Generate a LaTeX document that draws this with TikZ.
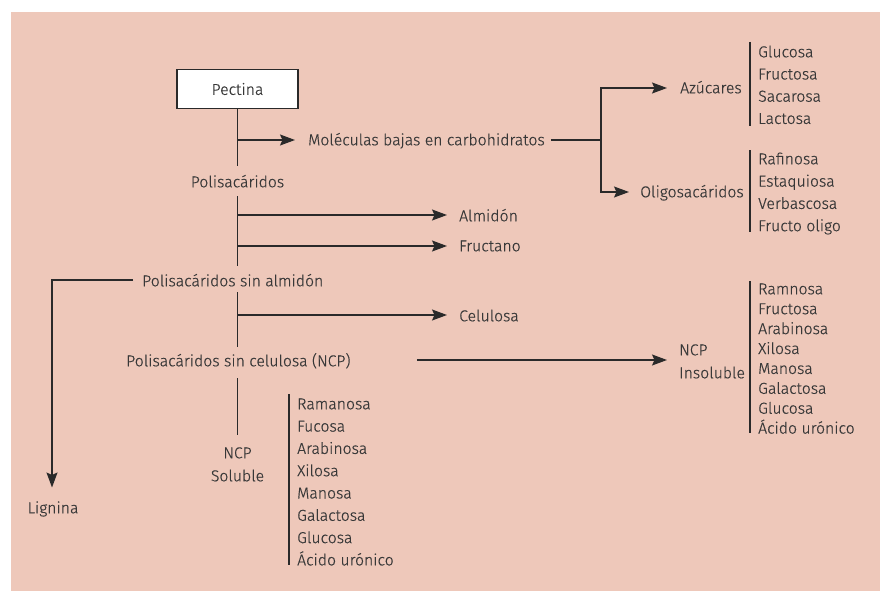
\documentclass[tikz,border=0pt]{standalone}
\usepackage{fontspec}
\setmainfont{Fira Sans Light}[FakeBold=0.5]
\usetikzlibrary{arrows.meta,calc}
\definecolor{bg}{HTML}{EEC8BA}
\definecolor{ink}{HTML}{383838}
\definecolor{line}{HTML}{2A2A2A}
\newcommand\diagfont{\fontsize{15.8}{18}\selectfont}
\begin{document}
\begin{tikzpicture}[x=1pt,y=-1pt,
  lbl/.style={text=ink, inner sep=0pt, text height=10.6pt, text depth=0pt, font=\diagfont},
  item/.style={lbl, anchor=west},
  ln/.style={draw=line, line width=1.3pt},
  arr/.style={ln, -{Stealth[length=15pt,width=11pt,inset=2.5pt]}}]
% background panel
\fill[bg] (11,12) rectangle (880,591);
\useasboundingbox (0,0) rectangle (880,591);

% main column
\node[draw=line, line width=1.1pt, fill=white, minimum width=121pt, minimum height=39pt,
      inner sep=0pt, text=ink, font=\diagfont] (pec) at (237.5,89) {Pectina};
\node[lbl] (pol) at (237.5,182) {Polisacáridos};
\node[item] (psa) at (142,281) {Polisacáridos sin almidón};
\node[item] (psc) at (126,361) {Polisacáridos sin celulosa (NCP)};
\node[lbl] (ncps1) at (237.5,453) {NCP};
\node[lbl] (ncps2) at (237.5,476) {Soluble};
\node[lbl] (lig) at (53,508) {Lignina};

% branches
\node[item] (mol) at (308,140) {Moléculas bajas en carbohidratos};
\node[item] (azu) at (680,88) {Azúcares};
\node[item] (oli) at (640,192) {Oligosacáridos};
\node[item] (alm) at (459,216) {Almidón};
\node[item] (fru) at (459,246) {Fructano};
\node[item] (cel) at (459,316) {Celulosa};
\node[item] (ncpi1) at (679,350) {NCP};
\node[item] (ncpi2) at (679,373) {Insoluble};

% component lists
\foreach \t [count=\i] in {Glucosa,Fructosa,Sacarosa,Lactosa}
  \node[item] (az\i) at (758,{52+22.2*(\i-1)}) {\t};
\foreach \t [count=\i] in {Rafinosa,Estaquiosa,Verbascosa,Fructo oligo}
  \node[item] (ol\i) at (758,{159+22.3*(\i-1)}) {\t};
\foreach \t [count=\i] in {Ramnosa,Fructosa,Arabinosa,Xilosa,Manosa,Galactosa,Glucosa,Ácido urónico}
  \node[item] (in\i) at (758,{289+19.9*(\i-1)}) {\t};
\foreach \t [count=\i] in {Ramanosa,Fucosa,Arabinosa,Xilosa,Manosa,Galactosa,Glucosa,Ácido urónico}
  \node[item] (so\i) at (297,{404+22.3*(\i-1)}) {\t};

% list brackets
\draw[ln] ($(az1.west)+(-8,-10)$) -- ($(az4.west)+(-8,7)$);
\draw[ln] ($(ol1.west)+(-8,-9)$) -- ($(ol4.west)+(-8,6)$);
\draw[ln] ($(in1.west)+(-8,-8)$) -- ($(in8.west)+(-8,5)$);
\draw[ln] ($(so1.west)+(-8,-10)$) -- ($(so8.west)+(-8,5)$);

% junctions on the trunk
\coordinate (j1) at (237.5,140);
\coordinate (j2) at (601,140);
\coordinate (j3) at (237.5,215);
\coordinate (j4) at (237.5,246);
\coordinate (j5) at (237.5,315);

% connectors
\draw[ln] (pec.south) -- ($(pol)+(0,-16)$);
\draw[arr] (j1) -- ($(mol.west)+(-13,0)$);
\draw[ln] ($(mol.east)+(6,0)$) -- (j2);
\draw[arr] (j2) |- ($(azu.west)+(-13,0)$);
\draw[arr] (j2) |- ($(oli.west)+(-11,0)$);
\draw[ln] ($(pol)+(0,14)$) -- ($(pol)+(0,84)$);
\draw[arr] (j3) -- ($(alm.west)+(-12,-1)$);
\draw[arr] (j4) -- ($(fru.west)+(-12,0)$);
\draw[arr] ($(psa.west)+(-9,-1)$) -| ($(lig.north)+(-1,-15)$);
\draw[ln] ($(pol)+(0,110)$) -- ($(pol)+(0,165)$);
\draw[arr] (j5) -- ($(cel.west)+(-12,-1)$);
\draw[arr] ($(psc.east)+(66,-1)$) -- ($($(ncpi1.west)!0.5!(ncpi2.west)$)+(-12,-1.5)$);
\draw[ln] ($(pol)+(0,196)$) -- ($(ncps1.north)+(0,-13)$);
\end{tikzpicture}
\end{document}
